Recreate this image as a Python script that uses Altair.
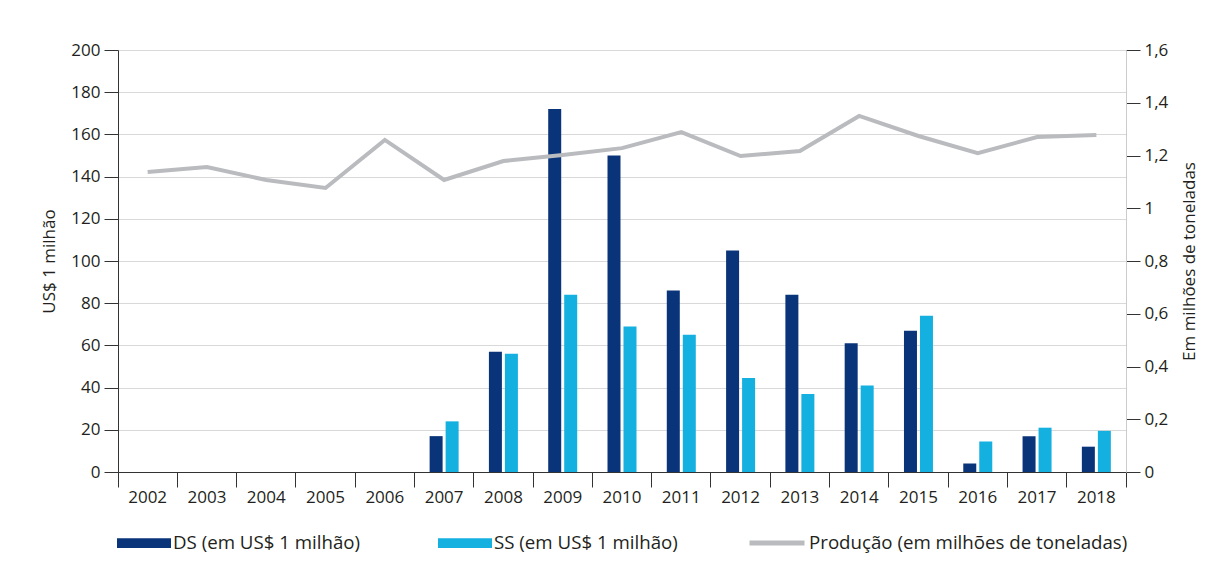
import altair as alt
import pandas as pd

years = [str(y) for y in range(2002, 2019)]
ds = [None, None, None, None, None, 17, 57, 172, 150, 86, 105, 84, 61, 67, 4, 17, 12]
ss = [None, None, None, None, None, 24, 56, 84, 69, 65, 44.5, 37, 41, 74, 14.5, 21, 19.5]
prod = [1.137, 1.156, 1.107, 1.077, 1.259, 1.107, 1.179, 1.202, 1.228, 1.289,
        1.198, 1.217, 1.350, 1.274, 1.209, 1.270, 1.278]

DS_NAME = "DS (em US$ 1 milhão)"
SS_NAME = "SS (em US$ 1 milhão)"
PROD_NAME = "Produção (em milhões de toneladas)"

rows = []
for y, d, s in zip(years, ds, ss):
    if d is not None:
        rows.append({"ano": y, "serie": DS_NAME, "valor": d})
    if s is not None:
        rows.append({"ano": y, "serie": SS_NAME, "valor": s})
bars_df = pd.DataFrame(rows)
line_df = pd.DataFrame({"ano": years, "prod": prod, "serie": PROD_NAME})

FONT = "Open Sans"
TXT = "#231f20"

xenc = alt.X(
    "ano:N",
    sort=years,
    scale=alt.Scale(domain=years, paddingInner=0, paddingOuter=0),
    axis=alt.Axis(
        title=None, bandPosition=1, tickExtra=True, tickSize=15, tickColor="#333333",
        domainColor="#333333", labelPadding=2, labelAngle=0, labelFontSize=17,
        labelColor=TXT, labelFont=FONT, grid=False,
    ),
)

rect_path = "M-1,-0.18L1,-0.18L1,0.18L-1,0.18Z"

bars = alt.Chart(bars_df).mark_bar().encode(
    x=xenc,
    xOffset=alt.XOffset(
        "serie:N",
        sort=[DS_NAME, SS_NAME],
        scale=alt.Scale(domain=[DS_NAME, SS_NAME], paddingInner=0.1875, paddingOuter=0.947),
    ),
    y=alt.Y(
        "valor:Q",
        scale=alt.Scale(domain=[0, 200], nice=False),
        axis=alt.Axis(
            title="US$ 1 milhão", titleFont=FONT, titleFontSize=17, titleFontWeight="normal",
            titleColor=TXT, titlePadding=12, values=list(range(0, 201, 20)),
            tickSize=14, tickColor="#333333", domainColor="#333333", labelPadding=4,
            labelFontSize=17, labelColor=TXT, labelFont=FONT,
            grid=True, gridColor="#d9d9d9", gridWidth=1,
        ),
    ),
    color=alt.Color(
        "serie:N",
        scale=alt.Scale(domain=[DS_NAME, SS_NAME], range=["#0a347a", "#14b0e0"]),
        legend=alt.Legend(
            title=None, orient="none", legendX=-1, legendY=466, direction="horizontal",
            symbolType=rect_path, symbolSize=2916, symbolStrokeWidth=0, symbolOpacity=1,
            labelFont=FONT, labelFontSize=18.7, labelColor=TXT, labelOffset=2,
            labelLimit=500, columnPadding=77,
        ),
    ),
)

line = alt.Chart(line_df).mark_line(strokeWidth=4, strokeJoin="miter").encode(
    x=xenc,
    y=alt.Y(
        "prod:Q",
        scale=alt.Scale(domain=[0, 1.6], nice=False),
        axis=alt.Axis(
            title="Em milhões de toneladas", orient="right", titleFont=FONT, titleFontSize=17,
            titleFontWeight="normal", titleColor=TXT, titlePadding=14, titleAngle=270,
            titleBaseline="top",
            values=[0, 0.2, 0.4, 0.6, 0.8, 1, 1.2, 1.4, 1.6],
            labelExpr="replace(format(datum.value, '~g'), '.', ',')",
            tickSize=14, tickColor="#333333", domainColor="#cccccc", labelPadding=4,
            labelFontSize=17, labelColor=TXT, labelFont=FONT, grid=False,
        ),
    ),
    stroke=alt.Stroke(
        "serie:N",
        scale=alt.Scale(domain=[PROD_NAME], range=["#b9bbbe"]),
        legend=alt.Legend(
            title=None, orient="none", legendX=629, legendY=463,
            symbolType="stroke", symbolSize=3025, symbolStrokeWidth=5,
            labelFont=FONT, labelFontSize=18.7, labelColor=TXT, labelOffset=2,
            labelLimit=500,
        ),
    ),
)

chart = (
    alt.layer(bars, line)
    .resolve_scale(y="independent", color="independent", stroke="independent")
    .properties(
        width=1008, height=422,
        autosize=alt.AutoSizeParams(type="none"),
        padding={"left": 110, "top": 42, "right": 77, "bottom": 97},
    )
    .configure_view(stroke=None)
    .configure(background="white")
)

chart.save("out.html", embed_options={"renderer": "svg", "actions": False})
